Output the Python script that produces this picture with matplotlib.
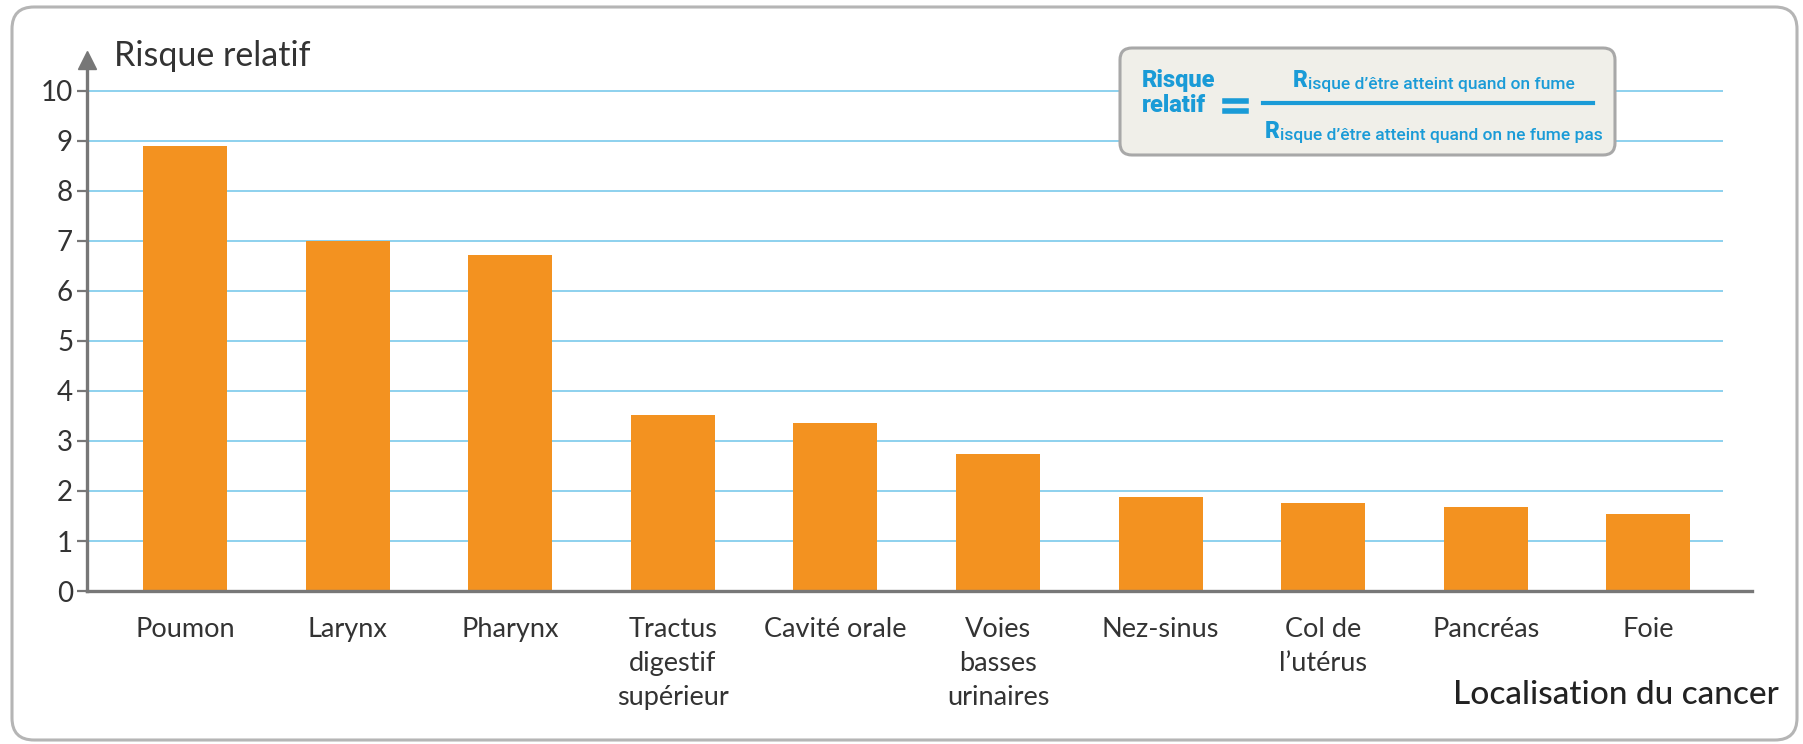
import matplotlib
matplotlib.use("Agg")
import matplotlib.pyplot as plt
from matplotlib.patches import FancyBboxPatch
from matplotlib.transforms import IdentityTransform
from matplotlib.lines import Line2D
from matplotlib.text import Annotation

# data
categories = ["Poumon", "Larynx", "Pharynx", "Tractus\ndigestif\nsupérieur",
              "Cavité orale", "Voies\nbasses\nurinaires", "Nez-sinus",
              "Col de\nl\u2019utérus", "Pancréas", "Foie"]
risque_relatif = [8.9, 7.0, 6.72, 3.52, 3.36, 2.74, 1.88, 1.77, 1.68, 1.54]
y_ticks = list(range(0, 11))

W, H = 1803, 744
ORANGE = "#f39220"
GRID = "#8dd1ee"
AXIS = "#777777"
TXT = "#333333"
BLUE = "#1a9bd7"

plt.rcParams["font.family"] = ["Lato", "DejaVu Sans"]

fig = plt.figure(figsize=(W / 100, H / 100), dpi=100)
px = IdentityTransform()


def fx(x):
    return x / W


def fy(y):
    return 1 - y / H


# outer rounded frame
fig.patches.append(FancyBboxPatch((12, 4), 1785, 733,
                                  boxstyle="round,pad=0,rounding_size=22",
                                  fc="none", ec="#b5b5b5", lw=2.2,
                                  transform=px, figure=fig, zorder=-1))

# axes placed so that 0 is at y=591 px and 1 unit = 50 px
ax_left, ax_right, ax_bottom, ax_top = 87, 1752, 591, 60
ax = fig.add_axes([fx(ax_left), fy(ax_bottom), fx(ax_right - ax_left),
                   (ax_bottom - ax_top) / H])
ax.patch.set_alpha(0)
ymax = (ax_bottom - ax_top) / 50.0
spacing = 162.6
xmin = -(185 - ax_left) / spacing
xmax = xmin + (ax_right - ax_left) / spacing
ax.set_xlim(xmin, xmax)
ax.set_ylim(0, ymax)

x = list(range(len(categories)))
grid_end = xmin + (1723 - ax_left) / spacing
ax.hlines(y_ticks[1:], xmin, grid_end, color=GRID, lw=1.4, zorder=1)
ax.bar(x, risque_relatif, width=0.517, color=ORANGE, zorder=2)

for s in ["top", "right"]:
    ax.spines[s].set_visible(False)
for s in ["left", "bottom"]:
    ax.spines[s].set_color(AXIS)
    ax.spines[s].set_linewidth(2.4)
    ax.spines[s].set_zorder(3)

ax.plot([xmin], [ymax], marker="^", ms=13, color=AXIS, clip_on=False, zorder=4)

ax.set_yticks(y_ticks)
ax.set_yticklabels([str(v) for v in y_ticks], fontsize=20, color=TXT)
ax.tick_params(axis="y", length=7, width=1.6, color=AXIS, pad=3)
ax.set_xticks(x)
ax.set_xticklabels(categories, fontsize=19.5, color=TXT, linespacing=1.45)
ax.tick_params(axis="x", length=0, pad=19)

fig.text(fx(114), fy(66), "Risque relatif", fontsize=24.5, color=TXT,
         ha="left", va="baseline")
fig.text(fx(1779), fy(704), "Localisation du cancer", fontsize=24,
         color="#222222", ha="right", va="baseline", fontweight="medium")

# formula box
fig.patches.append(FancyBboxPatch((1120, H - 155), 495, 107,
                                  boxstyle="round,pad=0,rounding_size=12",
                                  fc="#f0efe9", ec="#a8a8a8", lw=2.2,
                                  transform=px, figure=fig, zorder=5))
narrow = ["Roboto", "DejaVu Sans"]
fig.text(fx(1142), fy(87), "Risque", fontsize=17, fontweight="heavy",
         color=BLUE, family=narrow, va="baseline", zorder=6)
fig.text(fx(1142), fy(112), "relatif", fontsize=17, fontweight="heavy",
         color=BLUE, family=narrow, va="baseline", zorder=6)
for yy in (101, 111):
    fig.lines.append(Line2D([1225, 1246], [H - yy, H - yy], lw=4, color=BLUE,
                            transform=px, figure=fig, zorder=6))
fig.lines.append(Line2D([1263, 1593], [H - 103, H - 103], lw=3, color=BLUE,
                        transform=px, figure=fig, zorder=6))

for x0, yb, rest in [(1293, 87, "isque d\u2019être atteint quand on fume"),
                     (1265, 138, "isque d\u2019être atteint quand on ne fume pas")]:
    r = fig.text(fx(x0), fy(yb), "R", fontsize=16.5, fontweight="heavy",
                 color=BLUE, family=narrow, va="baseline", zorder=6)
    a = Annotation(rest, xy=(1, 0), xycoords=r, xytext=(0.3, 0),
                   textcoords="offset points", fontsize=12.5, color=BLUE,
                   family=narrow, fontweight="medium", va="bottom",
                   ha="left", zorder=6, annotation_clip=False)
    fig.add_artist(a)

fig.savefig("out.png", dpi=100)
